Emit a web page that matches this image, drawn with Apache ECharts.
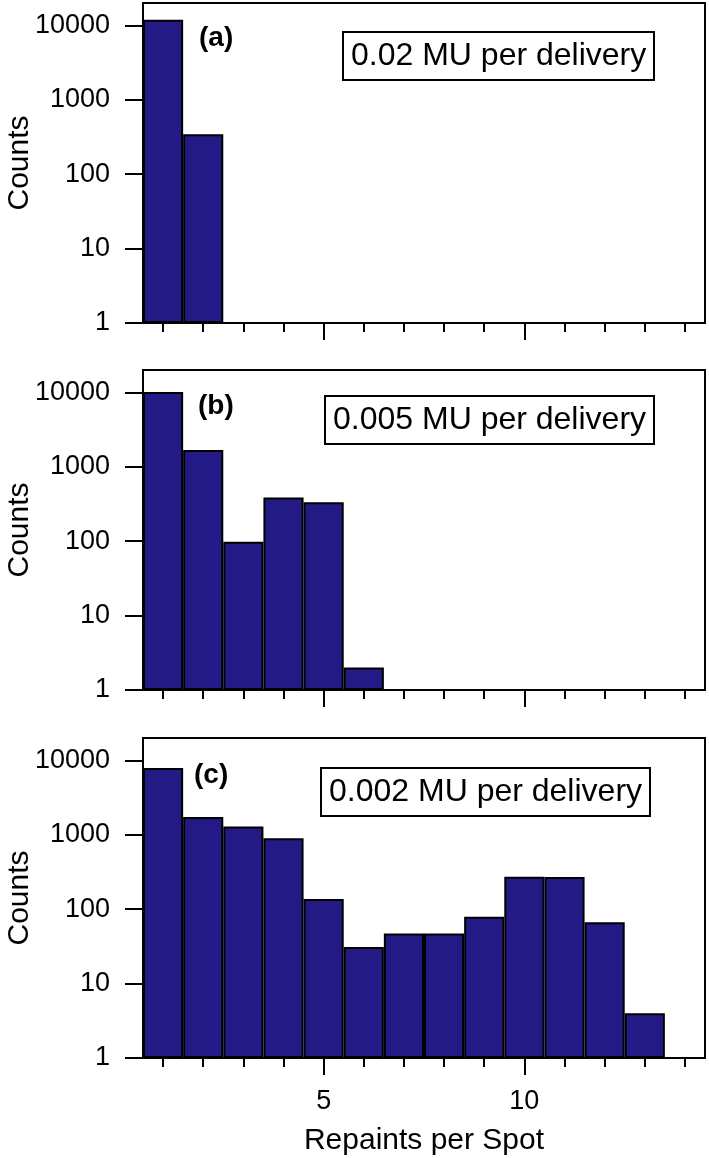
<!DOCTYPE html>
<html>
<head>
<meta charset="utf-8">
<script src="https://cdn.jsdelivr.net/npm/echarts@6/dist/echarts.min.js"></script>
<style>
  html, body { margin: 0; padding: 0; background: #fff; }
  #chart { width: 709px; height: 1158px; }
</style>
</head>
<body>
<div id="chart"></div>
<script>
var repaints = ['1', '2', '3', '4', '5', '6', '7', '8', '9', '10', '11', '12', '13', '14'];
var countsA = [11900, 345, null, null, null, null, null, null, null, null, null, null, null, null];
var countsB = [10100, 1680, 98, 387, 335, 2, null, null, null, null, null, null, null, null];
var countsC = [7900, 1730, 1290, 900, 137, 31, 47, 47, 79, 272, 270, 67, 4, null];
var yTicks = [1, 10, 100, 1000, 10000];
var majorTicks = ['5', '10'];
var panelNames = ['(a)', '(b)', '(c)'];
var doseNames = ['0.02 MU per delivery', '0.005 MU per delivery', '0.002 MU per delivery'];

var font = 'Liberation Sans, Arial, sans-serif';
var barColor = '#241a86';
var gridTops = [3, 370, 738];

var chart = echarts.init(document.getElementById('chart'));

var grids = [];
var xAxes = [];
var yAxes = [];
var series = [];
var allCounts = [countsA, countsB, countsC];

function isMajor(idx, val) {
    return majorTicks.indexOf(String(val)) >= 0;
}

for (var i = 0; i < 3; i++) {
    var last = (i === 2);
    grids.push({
        left: 143, right: 4, top: gridTops[i], height: 320,
        outerBoundsMode: 'none', containLabel: false,
        show: true, borderColor: '#000', borderWidth: 2, backgroundColor: 'transparent'
    });
    // minor ticks on every integer
    xAxes.push({
        type: 'category', gridIndex: i, position: 'bottom', data: repaints,
        boundaryGap: true,
        axisLine: { show: true, lineStyle: { color: '#000', width: 2 } },
        axisTick: { show: true, inside: false, alignWithLabel: true, interval: 0, length: 9, lineStyle: { color: '#000', width: 2 } },
        axisLabel: { show: false },
        splitLine: { show: false }
    });
    // major ticks + labels at 5 and 10
    xAxes.push({
        type: 'category', gridIndex: i, position: 'bottom', data: repaints,
        boundaryGap: true,
        axisLine: { show: false },
        axisTick: {
            show: true, inside: false, alignWithLabel: true, length: 17,
            interval: isMajor,
            lineStyle: { color: '#000', width: 2 }
        },
        axisLabel: {
            show: last, margin: 30, fontSize: 27, color: '#000', fontFamily: font,
            interval: isMajor
        },
        name: last ? 'Repaints per Spot' : '',
        nameLocation: 'middle', nameGap: 68,
        nameTextStyle: { fontSize: 30, color: '#000', fontFamily: font },
        splitLine: { show: false }
    });
    yAxes.push({
        type: 'log', gridIndex: i, min: 1, max: 20000, logBase: 10,
        axisLine: { show: true, lineStyle: { color: '#000', width: 2 } },
        axisTick: { show: true, length: 18, customValues: yTicks, lineStyle: { color: '#000', width: 2 } },
        axisLabel: {
            margin: 33, fontSize: 27, color: '#000', fontFamily: font, customValues: yTicks,
            formatter: function (v) { return String(Math.round(v)); }
        },
        minorTick: { show: false },
        splitLine: { show: false },
        name: 'Counts', nameLocation: 'middle', nameGap: 108, nameRotate: 90,
        nameMoveOverlap: false,
        nameTextStyle: { fontSize: 30, color: '#000', fontFamily: font }
    });
    series.push({
        type: 'bar', xAxisIndex: i * 2, yAxisIndex: i,
        data: allCounts[i],
        barWidth: '100%',
        itemStyle: { color: barColor, borderColor: '#000', borderWidth: 2 },
        emphasis: { disabled: true },
        silent: true
    });
}

var panelLabelPos = [[199, 24], [198, 392], [194, 761]];
var boxPos = [[343, 32], [325, 396], [321, 768]];
var titles = [];
for (var k = 0; k < 3; k++) {
    titles.push({
        text: panelNames[k], left: panelLabelPos[k][0], top: panelLabelPos[k][1], padding: 0,
        textStyle: { fontSize: 28, fontWeight: 'bold', color: '#000', fontFamily: font }
    });
    titles.push({
        text: doseNames[k], left: boxPos[k][0], top: boxPos[k][1], padding: [7, 8],
        borderColor: '#000', borderWidth: 2, backgroundColor: '#fff',
        textStyle: { fontSize: 32, fontWeight: 'normal', lineHeight: 34, color: '#000', fontFamily: font }
    });
}

var option = {
    animation: false,
    title: titles,
    grid: grids,
    xAxis: xAxes,
    yAxis: yAxes,
    series: series
};

chart.setOption(option);
</script>
</body>
</html>
